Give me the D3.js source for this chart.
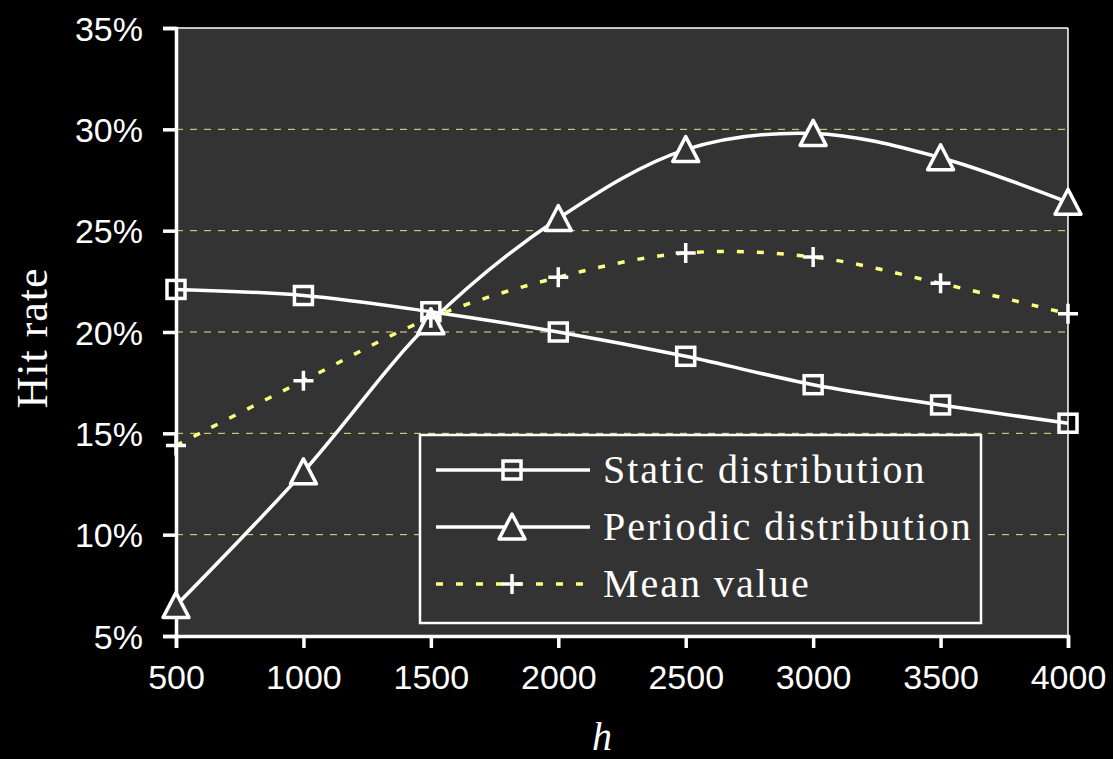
<!DOCTYPE html>
<html>
<head>
<meta charset="utf-8">
<script src="https://cdn.jsdelivr.net/npm/d3@7"></script>
<style>
  html, body { margin: 0; padding: 0; background: #000; }
  svg { display: block; }
</style>
</head>
<body>
<svg id="chart" width="1113" height="759"></svg>
<script>
// values
const hValues = [500, 1000, 1500, 2000, 2500, 3000, 3500, 4000];
const staticRate = [22.1, 21.8, 21.0, 20.0, 18.8, 17.4, 16.4, 15.5];
const periodicRate = [6.5, 13.1, 20.5, 25.6, 29.0, 29.8, 28.6, 26.4];
const meanRate = [14.4, 17.6, 20.7, 22.7, 23.9, 23.7, 22.4, 20.9];
const yTicks = [5, 10, 15, 20, 25, 30, 35];
const seriesNames = ["Static distribution", "Periodic distribution", "Mean value"];

const svg = d3.select("#chart");
const W = 1113, H = 759;
const plotLeft = 176, plotRight = 1068, plotTop = 28, plotBottom = 636;

svg.append("rect").attr("width", W).attr("height", H).attr("fill", "#000");

const x = d3.scaleLinear().domain([500, 4000]).range([plotLeft, plotRight]);
const y = d3.scaleLinear().domain([5, 35]).range([plotBottom, plotTop]);

// plot area
svg.append("rect")
    .attr("x", plotLeft).attr("y", plotTop)
    .attr("width", plotRight - plotLeft).attr("height", plotBottom - plotTop)
    .attr("fill", "#333333");

// gridlines
svg.append("g")
    .selectAll("line")
    .data(yTicks.filter(d => d > 5 && d < 35))
    .join("line")
    .attr("x1", plotLeft).attr("x2", plotRight)
    .attr("y1", d => y(d)).attr("y2", d => y(d))
    .attr("stroke", "#e6e68c")
    .attr("stroke-width", 1)
    .attr("stroke-dasharray", "7,7");

// thin frame top / right
svg.append("line").attr("x1", plotLeft).attr("x2", plotRight).attr("y1", plotTop).attr("y2", plotTop)
    .attr("stroke", "#fff").attr("stroke-width", 1.5);
svg.append("line").attr("x1", plotRight).attr("x2", plotRight).attr("y1", plotTop).attr("y2", plotBottom)
    .attr("stroke", "#fff").attr("stroke-width", 1.5);

// axes
const yAxis = d3.axisLeft(y).tickValues(yTicks).tickFormat(d => d + "%").tickSize(13).tickPadding(20);
const xAxis = d3.axisBottom(x).tickValues(hValues).tickFormat(d3.format("d")).tickSize(12).tickPadding(17);

const gy = svg.append("g").attr("transform", `translate(${plotLeft},0)`).call(yAxis);
const gx = svg.append("g").attr("transform", `translate(0,${plotBottom})`).call(xAxis);

[gx, gy].forEach(g => {
    g.select(".domain").attr("stroke", "#fff").attr("stroke-width", 3.5);
    g.selectAll(".tick line").attr("stroke", "#fff").attr("stroke-width", 3.5);
    g.selectAll(".tick text")
        .attr("fill", "#fff")
        .style("font-family", "'Liberation Sans', Arial, sans-serif")
        .style("font-size", "34px");
});
gy.selectAll(".tick text").attr("dy", "0.36em");
gx.selectAll(".tick text").attr("dy", "0.71em");

// axis titles
svg.append("text")
    .attr("transform", "translate(47,338) rotate(-90)")
    .attr("text-anchor", "middle")
    .attr("fill", "#fff")
    .style("font-family", "'Liberation Serif', 'Times New Roman', serif")
    .style("font-size", "44px")
    .style("letter-spacing", "1px")
    .text("Hit rate");

svg.append("text")
    .attr("x", 602).attr("y", 750)
    .attr("text-anchor", "middle")
    .attr("fill", "#fff")
    .style("font-family", "'Liberation Serif', 'Times New Roman', serif")
    .style("font-style", "italic")
    .style("font-size", "40px")
    .text("h");

// lines
const line = d3.line()
    .x((d, i) => x(hValues[i]))
    .y(d => y(d))
    .curve(d3.curveCatmullRom.alpha(0.5));

const plot = svg.append("g");

plot.append("path").datum(staticRate).attr("d", line)
    .attr("fill", "none").attr("stroke", "#fff").attr("stroke-width", 3.5);
plot.append("path").datum(periodicRate).attr("d", line)
    .attr("fill", "none").attr("stroke", "#fff").attr("stroke-width", 3.5);
plot.append("path").datum(meanRate).attr("d", line)
    .attr("fill", "none").attr("stroke", "#ffff80").attr("stroke-width", 3.5)
    .attr("stroke-dasharray", "7,13");

// marker drawers
function square(g, cx, cy) {
    g.append("rect")
        .attr("x", cx - 9).attr("y", cy - 9)
        .attr("width", 18).attr("height", 18)
        .attr("fill", "none").attr("stroke", "#fff").attr("stroke-width", 3.5);
}
function triangle(g, cx, cy) {
    g.append("path")
        .attr("d", `M${cx},${cy - 13}L${cx + 13},${cy + 12}L${cx - 13},${cy + 12}Z`)
        .attr("fill", "#333").attr("stroke", "#fff").attr("stroke-width", 3.5)
        .attr("stroke-linejoin", "round");
}
function plus(g, cx, cy) {
    g.append("path")
        .attr("d", `M${cx - 10},${cy}H${cx + 10}M${cx},${cy - 10}V${cy + 10}`)
        .attr("stroke", "#fff").attr("stroke-width", 3.5);
}

staticRate.forEach((v, i) => square(plot, x(hValues[i]), y(v)));
periodicRate.forEach((v, i) => triangle(plot, x(hValues[i]), y(v)));
meanRate.forEach((v, i) => plus(plot, x(hValues[i]), y(v)));

// legend
const legend = svg.append("g");
legend.append("rect")
    .attr("x", 420).attr("y", 435)
    .attr("width", 561).attr("height", 188)
    .attr("fill", "#333").attr("stroke", "#fff").attr("stroke-width", 2.5);

const markers = [square, triangle, plus];
seriesNames.forEach((name, i) => {
    const ly = 470 + i * 57;
    const ln = legend.append("line")
        .attr("x1", 436).attr("x2", 590).attr("y1", ly).attr("y2", ly)
        .attr("stroke", i === 2 ? "#ffff80" : "#fff")
        .attr("stroke-width", 3.5);
    if (i === 2) ln.attr("stroke-dasharray", "7,13");
    markers[i](legend, 512, ly);
    legend.append("text")
        .attr("x", 603).attr("y", ly + 13)
        .attr("fill", "#fff")
        .style("font-family", "'Liberation Serif', 'Times New Roman', serif")
        .style("font-size", "40px")
        .style("letter-spacing", "2px")
        .text(name);
});
</script>
</body>
</html>
